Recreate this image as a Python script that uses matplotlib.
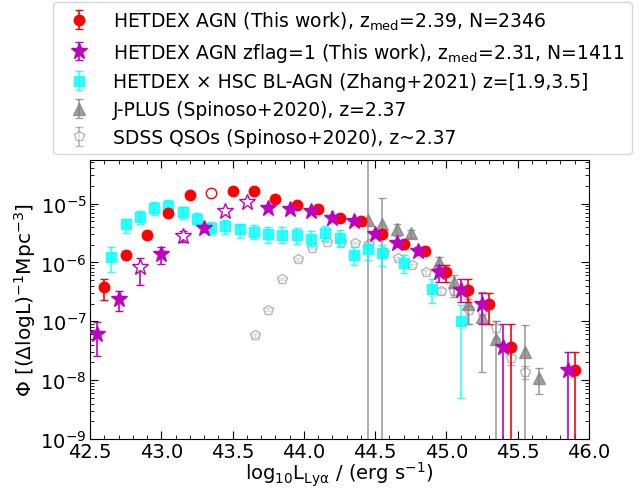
import numpy as np
import matplotlib
matplotlib.use('Agg')
import matplotlib.pyplot as plt
from matplotlib.ticker import MultipleLocator, LogLocator, NullFormatter

# HETDEX AGN (this work): log L, log Phi, error bar ends (log)
x_red = [42.60, 42.75, 42.90, 43.05, 43.20, 43.35, 43.50, 43.65, 43.80, 43.95, 44.10,
         44.25, 44.40, 44.55, 44.70, 44.85, 45.00, 45.15, 45.30, 45.45, 45.90]
phi_red = [-6.42, -5.87, -5.535, -5.16, -4.855, -4.82, -4.78, -4.79, -4.93, -5.02, -5.09,
           -5.24, -5.29, -5.51, -5.68, -5.80, -6.155, -6.47, -6.70, -7.43, -7.82]
lo_red = [-6.63, -5.95, -5.59, -5.20, -4.88, -4.85, -4.80, -4.81, -4.95, -5.05, -5.12,
          -5.27, -5.32, -5.55, -5.73, -5.87, -6.325, -6.675, -7.04, -10, -10]
hi_red = [-6.28, -5.80, -5.48, -5.12, -4.83, -4.79, -4.76, -4.77, -4.91, -5.00, -5.06,
          -5.21, -5.26, -5.47, -5.64, -5.74, -6.04, -6.29, -6.52, -7.04, -7.53]
open_red = [5]

# HETDEX AGN zflag=1
x_mag = [42.55, 42.70, 42.85, 43.00, 43.15, 43.30, 43.45, 43.60, 43.75, 43.90, 44.05,
         44.20, 44.35, 44.50, 44.65, 44.80, 44.95, 45.10, 45.25, 45.40, 45.85]
phi_mag = [-7.21, -6.62, -6.08, -5.865, -5.55, -5.42, -5.13, -4.975, -5.07, -5.10, -5.13,
           -5.25, -5.30, -5.52, -5.67, -5.80, -6.155, -6.47, -6.70, -7.43, -7.82]
lo_mag = [-7.59, -6.82, -6.38, -6.02, -5.65, -5.48, -5.18, -5.01, -5.10, -5.13, -5.16,
          -5.29, -5.34, -5.57, -5.73, -5.87, -6.325, -6.675, -7.04, -10, -10]
hi_mag = [-7.02, -6.48, -5.92, -5.74, -5.47, -5.37, -5.09, -4.94, -5.04, -5.07, -5.10,
          -5.21, -5.26, -5.47, -5.62, -5.74, -6.04, -6.29, -6.52, -7.04, -7.53]
open_mag = [2, 4, 6, 7]

# HETDEX x HSC BL-AGN (Zhang+2021)
x_cyan = [42.65, 42.75, 42.85, 42.95, 43.05, 43.15, 43.25, 43.35, 43.45, 43.55, 43.65, 43.75,
          43.85, 43.95, 44.05, 44.15, 44.25, 44.35, 44.45, 44.55, 44.70, 44.90, 45.10]
phi_cyan = [-5.91, -5.355, -5.23, -5.08, -5.04, -5.145, -5.26, -5.42, -5.38, -5.44, -5.475, -5.51,
            -5.53, -5.53, -5.60, -5.50, -5.58, -5.87, -5.78, -5.84, -6.01, -6.45, -7.00]
lo_cyan = [-6.165, -5.497, -5.355, -5.202, -5.173, -5.258, -5.355, -5.542, -5.514, -5.587, -5.61, -5.667,
           -5.667, -5.684, -5.723, -5.644, -5.74, -6.052, -5.967, -6.063, -6.177, -6.687, -8.30]
hi_cyan = [-5.74, -5.258, -5.128, -4.975, -4.947, -5.06, -5.162, -5.315, -5.287, -5.343, -5.372, -5.40,
           -5.40, -5.41, -5.474, -5.383, -5.457, -5.74, -5.684, -5.712, -5.882, -6.29, -6.715]

# J-PLUS (Spinoso+2020)
x_jplus = [44.45, 44.55, 44.65, 44.75, 44.95, 45.05, 45.15, 45.25, 45.35, 45.55, 45.65]
phi_jplus = [-5.28, -5.355, -5.44, -5.50, -6.00, -6.325, -6.70, -6.93, -7.30, -7.515, -7.97]
lo_jplus = [-10, -10, -5.55, -5.58, -6.10, -6.59, -7.04, -7.86, -10, -10, -8.235]
hi_jplus = [-4.0, -4.91, -5.355, -5.45, -5.91, -6.22, -6.62, -6.50, -6.99, -7.07, -7.80]

# SDSS QSOs (Spinoso+2020)
x_sdss = [43.66, 43.75, 43.85, 43.96, 44.06, 44.16, 44.26, 44.36, 44.46, 44.56, 44.66,
          44.76, 44.86, 44.96, 45.05, 45.16, 45.25, 45.35, 45.45, 45.55]
phi_sdss = [-7.24, -6.80, -6.28, -5.95, -5.75, -5.645, -5.655, -5.67, -5.68, -5.825, -5.93,
            -6.05, -6.165, -6.48, -6.48, -6.81, -6.82, -7.12, -7.63, -7.855]
lo_sdss = [-7.27, -6.83, -6.30, -5.97, -5.77, -5.66, -5.67, -5.69, -5.70, -5.85, -5.96,
           -6.08, -6.20, -6.53, -6.54, -7.04, -6.90, -7.28, -7.75, -7.98]
hi_sdss = [-7.21, -6.77, -6.26, -5.93, -5.73, -5.63, -5.64, -5.65, -5.66, -5.80, -5.90,
           -6.02, -6.13, -6.43, -6.42, -6.74, -6.74, -6.99, -7.52, -7.76]


def errs(phi, lo, hi):
	y = 10 ** np.array(phi)
	return y, [y - 10 ** np.array(lo), 10 ** np.array(hi) - y]


def plotSeries(ax, x, phi, lo, hi, openIdx, color, marker, ms, label, alpha=1.0, zorder=2):
	x = np.array(x)
	y, (el, eh) = errs(phi, lo, hi)
	filled = np.array([i not in openIdx for i in range(len(x))])
	ax.errorbar(x[filled], y[filled], yerr=[el[filled], eh[filled]], fmt=marker, color=color,
				ms=ms, capsize=3, elinewidth=1.2, alpha=alpha, label=label, zorder=zorder)
	if (~filled).any():
		ax.errorbar(x[~filled], y[~filled], yerr=[el[~filled], eh[~filled]], fmt=marker, color=color,
					mfc='white', mec=color, ms=ms, capsize=3, elinewidth=1.2,
					alpha=alpha, zorder=zorder)


fig = plt.figure(figsize=(6.44, 4.89), dpi=100)
ax = fig.add_axes([0.1398, 0.1002, 0.7748, 0.5706])

y, e = errs(phi_sdss, lo_sdss, hi_sdss)
ax.errorbar(x_sdss, y, yerr=e, fmt='p', color='gray', mfc='white', mec='gray', ms=7, capsize=3,
			elinewidth=1.2, alpha=0.55, label='SDSS QSOs (Spinoso+2020), z~2.37', zorder=1)
plotSeries(ax, x_jplus, phi_jplus, lo_jplus, hi_jplus, [], 'gray', '^', 8,
		   'J-PLUS (Spinoso+2020), z=2.37', alpha=0.75, zorder=1.5)
plotSeries(ax, x_cyan, phi_cyan, lo_cyan, hi_cyan, [], 'cyan', 's', 7.5,
		   'HETDEX \u00d7 HSC BL-AGN (Zhang+2021) z=[1.9,3.5]', alpha=0.8, zorder=2)
plotSeries(ax, x_red, phi_red, lo_red, hi_red, open_red, 'red', 'o', 7.5,
		   r'HETDEX AGN (This work), z$_{\rm med}$=2.39, N=2346', zorder=3)
plotSeries(ax, x_mag, phi_mag, lo_mag, hi_mag, open_mag, 'm', '*', 12,
		   r'HETDEX AGN zflag=1 (This work), z$_{\rm med}$=2.31, N=1411', zorder=4)

ax.set_yscale('log')
ax.set_xlim(42.5, 46.0)
ax.set_ylim(1e-9, 5.5e-5)
ax.xaxis.set_major_locator(MultipleLocator(0.5))
ax.xaxis.set_minor_locator(MultipleLocator(0.1))
ax.yaxis.set_major_locator(LogLocator(base=10, numticks=20))
ax.yaxis.set_minor_locator(LogLocator(base=10, subs=np.arange(2, 10), numticks=20))
ax.yaxis.set_minor_formatter(NullFormatter())
ax.tick_params(which='both', direction='in', top=True, right=True, labelsize=14, pad=2.5)
ax.tick_params(which='major', length=6)
ax.tick_params(which='minor', length=3)
ax.set_xlabel(r'log$_{10}$L$_{\rm Ly\alpha}$ / (erg s$^{-1}$)', fontsize=14)
ax.xaxis.set_label_coords(0.5, -0.075)
ax.set_ylabel(r'$\Phi$ [($\Delta$logL)$^{-1}$Mpc$^{-3}$]', fontsize=14.5, labelpad=2)

handles, labels = ax.get_legend_handles_labels()
order = [3, 4, 2, 1, 0]
fig.legend([handles[i] for i in order], [labels[i] for i in order], loc='upper right',
		   bbox_to_anchor=(0.981, 0.994), borderaxespad=0, fontsize=13.5, labelspacing=0.47)

plt.savefig('out.png')
